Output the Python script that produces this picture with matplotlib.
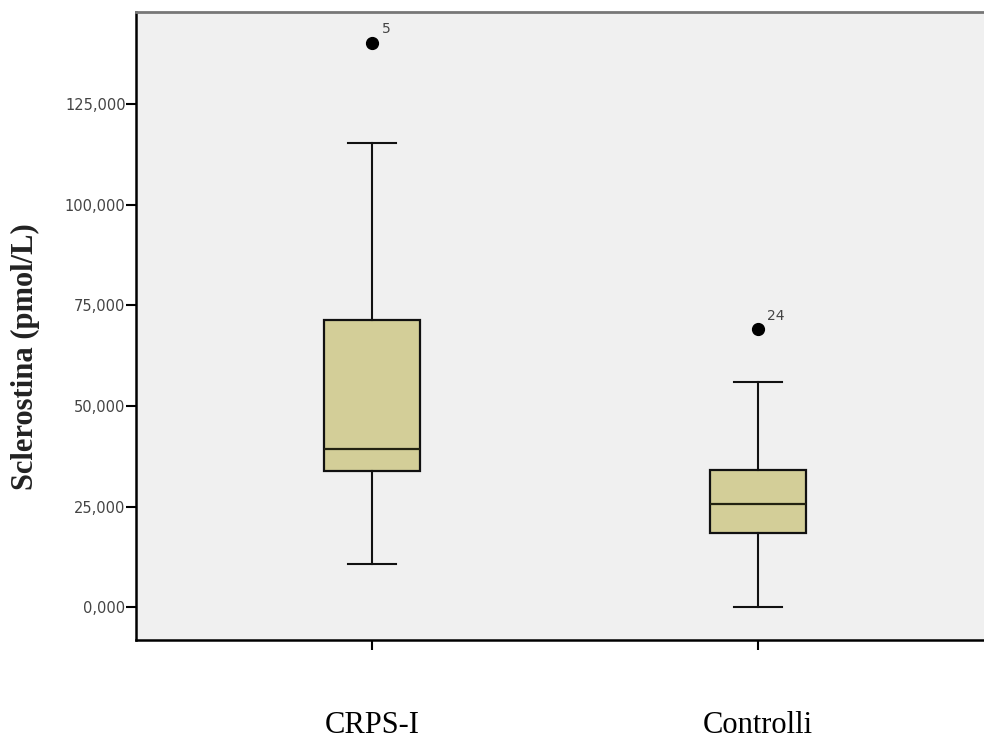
import matplotlib
matplotlib.use("Agg")
import matplotlib.pyplot as plt

# ---- data ----
categories = ["CRPS-I", "Controlli"]
whisker_low = [10700, 0]
q1 = [33800, 18450]
median = [39300, 25650]
q3 = [71300, 34100]
whisker_high = [115300, 55950]
outliers = [[140200], [69100]]
outlier_ids = [["5"], ["24"]]

ytick_values = [0, 25000, 50000, 75000, 100000, 125000]
ytick_labels = ["0,000", "25,000", "50,000", "75,000", "100,000", "125,000"]

ylabel = "Sclerostina (pmol/L)"

# ---- figure ----
fig = plt.figure(figsize=(9.84, 7.38), dpi=100)
fig.patch.set_facecolor("white")
ax = fig.add_axes([136/984, 98/738, 854/984, 628/738])
ax.set_facecolor("#F0F0F0")

positions = list(range(1, len(categories) + 1))
stats = []
for i, name in enumerate(categories):
    stats.append(dict(label=name, whislo=whisker_low[i], q1=q1[i], med=median[i],
                      q3=q3[i], whishi=whisker_high[i], fliers=outliers[i]))

ax.bxp(stats, positions=positions, widths=0.249, patch_artist=True,
       showfliers=True,
       boxprops=dict(facecolor="#D3CE98", edgecolor="#111111", linewidth=1.6),
       medianprops=dict(color="#222211", linewidth=1.6),
       whiskerprops=dict(color="#111111", linewidth=1.5),
       capprops=dict(color="#111111", linewidth=1.5),
       flierprops=dict(marker="o", markerfacecolor="black", markeredgecolor="black",
                       markersize=8.5, linestyle="none"))

for i, pos in enumerate(positions):
    for v, lab in zip(outliers[i], outlier_ids[i]):
        ax.annotate(lab, (pos, v), xytext=(6.5, 4.5), textcoords="offset points",
                    fontsize=10, color="#444444", family="DejaVu Sans",
                    ha="left", va="bottom")

ax.set_xlim(0.3865, 2.602)
ax.set_ylim(-8120, 147830)

ax.set_yticks(ytick_values)
ax.set_yticklabels(ytick_labels, fontsize=10.5, color="#444444", family="DejaVu Sans")
ax.tick_params(axis="y", direction="out", length=7, width=1.5, color="black", pad=0.5)

ax.set_xticks(positions)
ax.set_xticklabels(categories, fontsize=22, family="Liberation Serif", color="black")
ax.tick_params(axis="x", direction="out", length=7, width=1.5, color="black", pad=44)

for side in ["left", "bottom"]:
    ax.spines[side].set_color("black")
    ax.spines[side].set_linewidth(1.8)
ax.spines["top"].set_color("#777777")
ax.spines["top"].set_linewidth(2.0)
ax.spines["right"].set_visible(False)

fig.text(25/984, 1 - 357/738, ylabel, rotation=90, fontsize=22, fontweight="bold",
         family="Liberation Serif", ha="center", va="center", color="#222222")

fig.savefig("out.png", dpi=100)
